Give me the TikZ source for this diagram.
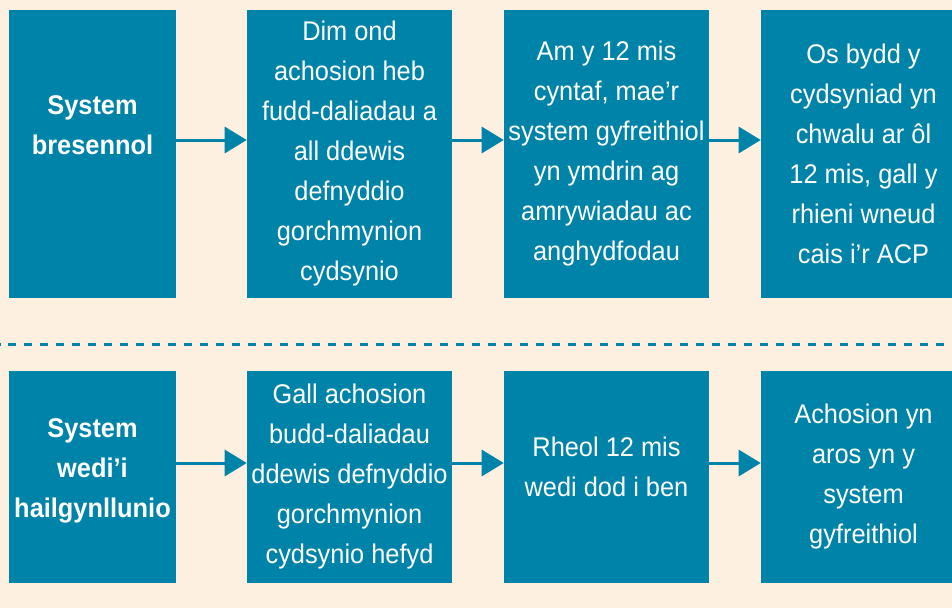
\documentclass[tikz,border=0pt]{standalone}
\usepackage{fontspec}
\setmainfont{Liberation Sans}[FakeStretch=0.94]
\usetikzlibrary{arrows.meta}

\definecolor{boxteal}{HTML}{0083A8}
\definecolor{paper}{HTML}{FDF0E0}

\begin{document}
\begin{tikzpicture}
[
x=0.75pt, y=-0.75pt,
box/.style={rectangle, fill=boxteal, text=white, inner sep=0pt, minimum width=153.75pt, align=center, font=\fontsize{20.25}{30}\selectfont},
headbox/.style={rectangle, fill=boxteal, inner sep=0pt, minimum width=125.25pt},
headtext/.style={text=white, inner sep=0pt, align=center, font=\bfseries\fontsize{20.25}{30}\selectfont},
tall/.style={minimum height=216pt},
short/.style={minimum height=159pt},
link/.style={draw=boxteal, line width=2.25pt, -{Triangle[length=16.5pt,width=19.5pt]}},
sepline/.style={draw=boxteal, line width=2.25pt, dash pattern=on 6.25pt off 5.75pt, dash phase=6pt},
]

\useasboundingbox (0,0) rectangle (952,608);
\fill[paper] (0,0) rectangle (952,608);
\clip (0,0) rectangle (952,608);

% current system
\node at (92.5,154) [headbox, tall] (now) {};
\node at (92.5,125) [headtext] (nowt) {System\\bresennol};
\node at (349.5,154) [box, tall] (now1) {Dim ond\\achosion heb\\fudd-daliadau a\\all ddewis\\defnyddio\\gorchmynion\\cydsynio};
\node at (606.5,154) [box, tall] (now2) {Am y 12 mis\\cyntaf, mae’r\\system gyfreithiol\\yn ymdrin ag\\amrywiadau ac\\anghydfodau};
\node at (863.5,154) [box, tall] (now3) {Os bydd y\\cydsyniad yn\\chwalu ar ôl\\12 mis, gall y\\rhieni wneud\\cais i’r ACP};

\draw[link] ([yshift=10.5pt]now.east) -- ([yshift=10.5pt]now1.west);
\draw[link] ([yshift=10.5pt]now1.east) -- ([yshift=10.5pt]now2.west);
\draw[link] ([yshift=10.5pt]now2.east) -- ([yshift=10.5pt]now3.west);

\draw[sepline] (0,344) -- (952,344);

% redesigned system
\node at (92.5,477) [headbox, short] (new) {};
\node at (92.5,471) [headtext] (newt) {System\\wedi’i\\hailgynllunio};
\node at (349.5,477) [box, short] (new1) {Gall achosion\\budd-daliadau\\ddewis defnyddio\\gorchmynion\\cydsynio hefyd};
\node at (606.5,477) [box, short, text depth=15pt] (new2) {Rheol 12 mis\\wedi dod i ben};
\node at (863.5,477) [box, short] (new3) {Achosion yn\\aros yn y\\system\\gyfreithiol};

\draw[link] ([yshift=10.5pt]new.east) -- ([yshift=10.5pt]new1.west);
\draw[link] ([yshift=10.5pt]new1.east) -- ([yshift=10.5pt]new2.west);
\draw[link] ([yshift=10.5pt]new2.east) -- ([yshift=10.5pt]new3.west);

\end{tikzpicture}
\end{document}
